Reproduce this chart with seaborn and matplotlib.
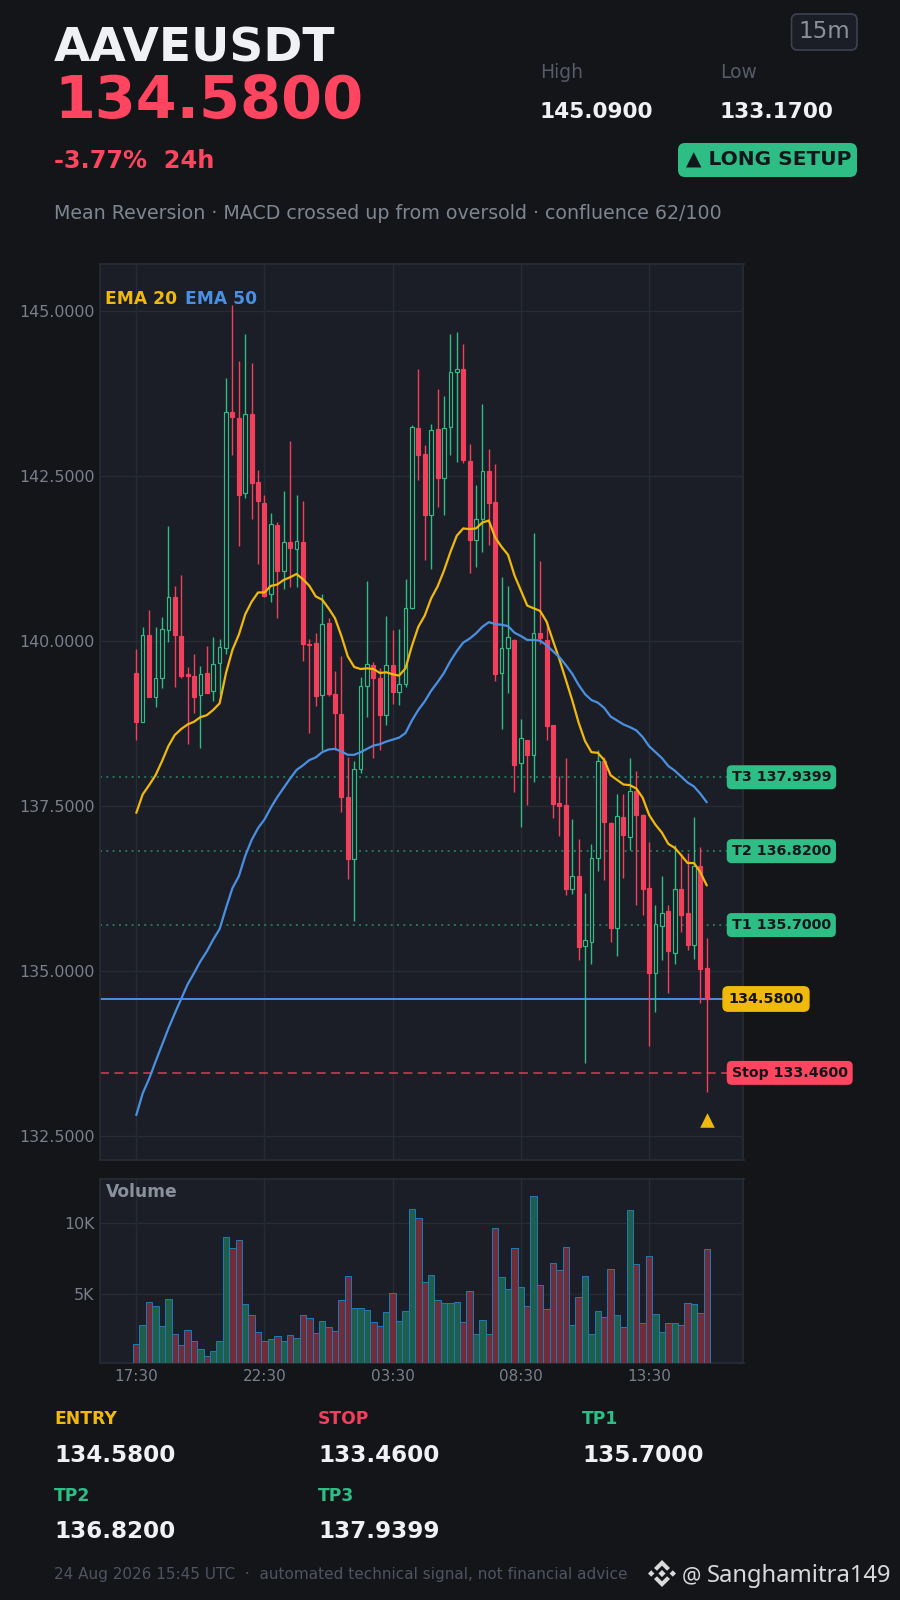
import matplotlib
matplotlib.use("Agg")
import matplotlib.pyplot as plt
from matplotlib.patches import FancyBboxPatch, Polygon
import numpy as np
import seaborn as sns

# candles
opens = [139.52,138.78,140.09,139.16,139.44,140.17,140.67,140.08,139.50,139.47,
         139.18,139.52,139.24,139.67,139.90,143.48,143.39,142.24,143.44,142.41,
         142.09,140.71,141.76,141.06,141.50,141.40,141.50,139.96,139.97,139.19,
         140.28,139.20,138.90,137.64,136.70,138.07,139.32,139.64,139.44,138.88,
         139.64,139.23,139.35,140.50,143.23,142.84,141.91,143.21,142.47,143.24,
         144.08,144.13,142.73,141.53,141.86,142.58,142.11,139.52,139.90,140.02,
         138.15,138.51,138.27,140.12,140.02,138.73,137.55,137.52,136.25,136.45,
         135.38,135.45,136.71,138.18,137.25,135.66,137.33,137.04,137.73,137.37,
         136.26,134.98,135.69,135.91,135.28,136.25,135.88,135.40,136.59,135.05]
highs = [139.89,140.21,140.48,140.22,140.37,141.75,140.84,141.00,139.61,139.81,
         139.63,139.93,140.06,140.03,143.99,145.09,144.25,144.66,144.21,142.59,
         142.22,141.95,141.81,142.28,143.03,142.22,142.12,140.03,140.12,140.71,
         140.35,139.55,139.78,138.24,138.19,139.46,140.91,139.68,139.59,140.39,
         140.17,140.18,140.94,143.27,144.12,142.98,143.29,143.83,143.71,144.65,
         144.68,144.50,142.99,142.37,143.59,142.91,142.69,140.97,140.84,140.03,
         138.82,138.51,141.64,141.22,140.30,138.73,137.96,138.23,137.31,137.01,
         136.19,136.93,138.36,138.24,137.26,137.68,137.69,138.23,138.03,137.38,
         136.96,136.01,136.45,136.01,136.92,136.77,136.79,137.34,136.89,135.51]
lows = [138.51,138.78,139.16,139.00,139.29,139.99,139.31,139.44,138.44,138.92,
        138.39,139.22,139.09,139.18,139.80,142.83,141.44,142.17,141.85,141.17,
        140.67,140.59,140.36,140.79,140.82,140.82,139.70,138.61,139.02,138.35,
        139.17,138.36,137.42,136.40,135.76,138.01,138.86,138.23,138.36,138.73,
        139.05,139.03,139.31,140.49,142.44,141.23,141.09,142.04,141.92,142.82,
        142.72,142.70,141.03,141.13,141.35,141.46,139.40,138.67,139.21,137.71,
        137.19,137.52,137.87,139.96,138.50,137.32,137.05,136.16,136.17,135.17,
        133.61,135.11,136.52,136.39,135.45,135.23,136.41,136.84,136.01,135.85,
        133.87,134.38,135.17,134.67,135.11,135.59,135.32,135.18,134.52,133.17]
closes = [138.77,140.09,139.16,139.44,140.18,140.67,140.09,139.48,139.47,139.16,
          139.50,139.22,139.65,139.91,143.48,143.40,142.22,143.44,142.40,142.12,
          140.69,141.77,141.06,141.50,141.42,141.52,139.96,139.95,139.17,140.26,
          139.20,138.91,137.64,136.70,138.07,139.32,139.66,139.44,138.88,139.64,
          139.23,139.35,140.50,143.24,142.83,141.91,143.20,142.47,143.23,144.08,
          144.12,142.74,141.53,141.86,142.58,142.09,139.50,139.90,140.06,138.13,
          138.53,138.28,140.12,140.05,138.72,137.54,137.50,136.25,136.44,135.37,
          135.47,136.71,138.18,137.26,135.66,137.35,137.06,137.73,137.37,136.25,
          134.98,135.71,135.88,135.30,136.25,135.85,135.40,136.59,135.04,134.58]
ema20 = [137.40,137.68,137.82,137.97,138.18,138.41,138.58,138.67,138.74,138.78,
         138.85,138.88,138.96,139.06,139.52,139.87,140.10,140.41,140.60,140.74,
         140.74,140.84,140.86,140.93,140.97,141.02,140.94,140.84,140.68,140.63,
         140.50,140.35,140.08,139.77,139.61,139.58,139.59,139.58,139.52,139.53,
         139.50,139.48,139.59,139.93,140.22,140.39,140.65,140.83,141.07,141.35,
         141.60,141.71,141.70,141.71,141.80,141.83,141.57,141.43,141.31,141.00,
         140.77,140.54,140.50,140.46,140.30,140.01,139.73,139.42,139.11,138.77,
         138.49,138.32,138.31,138.20,137.97,137.90,137.83,137.82,137.77,137.63,
         137.37,137.22,137.10,136.93,136.87,136.76,136.64,136.64,136.50,136.30]
ema50 = [132.82,133.15,133.37,133.63,133.88,134.13,134.36,134.58,134.80,134.97,
         135.15,135.30,135.48,135.64,135.96,136.26,136.44,136.75,136.99,137.17,
         137.30,137.48,137.64,137.78,137.92,138.05,138.12,138.20,138.24,138.32,
         138.36,138.37,138.33,138.28,138.28,138.32,138.37,138.42,138.44,138.48,
         138.51,138.54,138.61,138.80,138.96,139.09,139.25,139.38,139.52,139.70,
         139.85,139.98,140.04,140.12,140.22,140.29,140.26,140.25,140.23,140.13,
         140.08,140.02,140.02,140.01,139.94,139.85,139.76,139.64,139.51,139.34,
         139.20,139.11,139.07,138.99,138.86,138.80,138.74,138.70,138.65,138.55,
         138.41,138.32,138.23,138.11,138.04,137.95,137.86,137.80,137.69,137.56]
volume = [1.48,2.82,4.44,4.15,2.75,4.65,2.18,1.41,2.46,1.69,
          1.13,0.63,0.99,1.69,9.01,8.24,8.80,4.30,3.52,2.32,
          1.69,1.83,2.04,1.69,2.11,1.90,3.52,3.31,2.25,3.10,
          2.68,2.39,4.58,6.27,4.01,4.01,3.87,3.03,2.75,3.73,
          5.07,3.10,3.80,10.99,10.35,5.85,6.34,4.58,4.37,4.37,
          4.44,3.03,5.21,2.18,3.17,2.18,9.65,6.20,5.35,8.24,
          5.49,4.15,11.90,5.63,3.94,7.18,6.69,8.31,2.82,4.79,
          6.27,2.18,3.80,3.38,6.76,3.52,2.68,10.92,7.11,2.96,
          7.68,3.59,2.32,2.96,2.96,2.82,4.37,4.30,3.66,8.17]

price_ticks = [132.5,135.0,137.5,140.0,142.5,145.0]
vol_ticks = [5,10]
vol_labels = ["5K","10K"]
time_ticks = [0,20,40,60,80]
time_labels = ["17:30","22:30","03:30","08:30","13:30"]
entry = 134.58
stop = 133.46
targets = [135.70,136.82,137.9399]
signal_price = 132.75

BG = "#131519"
PANEL = "#1b1e26"
GRID = "#272b33"
GOLD = "#f0b90b"
BLUE = "#4a90e2"
RED = "#f23f5c"
HOT = "#ff4560"
GREEN = "#2dbd85"
WHITE = "#f0f1f5"
GREY = "#7a7f8a"
INK = "#13161b"

sns.set_theme(style="dark", rc={"figure.facecolor":BG,"axes.facecolor":PANEL,"axes.edgecolor":GRID,
                                "grid.color":GRID,"axes.grid":True,"grid.linewidth":1.0})
plt.rcParams["font.family"] = ["DejaVu Sans"]

W,H = 900,1600
fig = plt.figure(figsize=(9,16),dpi=100)

def panel(left,top,right,bottom):
    return fig.add_axes([left/W,1-bottom/H,(right-left)/W,(bottom-top)/H])

ax = panel(100,264,743.5,1160)
axv = panel(100,1179,743.5,1363)
idx = np.arange(len(closes))
rising = np.array(closes)>=np.array(opens)

# candles
for i in idx:
    c = GREEN if rising[i] else RED
    ax.vlines(i,lows[i],highs[i],color=c,lw=1.0,zorder=2)
    bot = min(opens[i],closes[i])
    hgt = abs(closes[i]-opens[i])
    ax.bar(i,hgt,bottom=bot,width=0.56 if rising[i] else 0.62,color=PANEL if rising[i] else c,edgecolor=c,lw=0.85,zorder=3)

sns.lineplot(x=idx,y=ema20,color=GOLD,lw=1.6,ax=ax,zorder=4)
sns.lineplot(x=idx,y=ema50,color=BLUE,lw=1.6,ax=ax,zorder=4)

for t in targets:
    ax.axhline(t,color=GREEN,alpha=0.55,lw=1.4,ls=(0,(1,2.25)),zorder=1)
ax.axhline(entry,color=BLUE,lw=1.4,zorder=1)
ax.axhline(stop,color=HOT,alpha=0.7,lw=1.3,ls=(0,(5,3)),zorder=1)
sns.scatterplot(x=[idx[-1]],y=[signal_price],marker="^",color=GOLD,s=110,linewidth=0,ax=ax,zorder=5)

ax.set_xlim(-5.66,94.73)
ax.set_ylim(132.14,145.717)
ax.set_yticks(price_ticks)
ax.set_yticklabels(["%.4f" % p for p in price_ticks])
ax.set_xticks(time_ticks)
ax.set_xticklabels([])
ax.tick_params(length=0,labelsize=11.4,labelcolor=GREY,pad=4)
ax.text(0.0085,0.961,"EMA 20",color=GOLD,fontsize=12.3,weight="bold",transform=ax.transAxes,va="center")
ax.text(0.1315,0.961,"EMA 50",color=BLUE,fontsize=12.3,weight="bold",transform=ax.transAxes,va="center")

# level tags
tr = ax.get_yaxis_transform()
for t,name in zip(targets,["T1 135.7000","T2 136.8200","T3 137.9399"]):
    ax.text(0.9817,t,name,color=INK,fontsize=10.3,weight="bold",transform=tr,va="center",clip_on=False,zorder=6,
            bbox=dict(boxstyle="round,pad=0.3",fc=GREEN,ec=GREEN))
ax.text(0.9763,entry,"134.5800",color=INK,fontsize=10.4,weight="bold",transform=tr,va="center",clip_on=False,zorder=6,
        bbox=dict(boxstyle="round,pad=0.36",fc=GOLD,ec=GOLD))
ax.text(0.9817,stop,"Stop 133.4600",color=INK,fontsize=10.2,weight="bold",transform=tr,va="center",clip_on=False,zorder=6,
        bbox=dict(boxstyle="round,pad=0.3",fc=HOT,ec=HOT))

# volume
sns.barplot(x=idx,y=volume,hue=["up" if r else "down" for r in rising],
            palette={"up":"#1e5e4a","down":"#702c38"},dodge=False,native_scale=True,
            width=1.0,saturation=1,edgecolor="#1f77b4",linewidth=0.75,legend=False,ax=axv,zorder=3)
axv.set_xlim(-5.66,94.73)
axv.set_ylim(0.14,13.12)
axv.set_yticks(vol_ticks)
axv.set_yticklabels(vol_labels)
axv.set_xticks(time_ticks)
axv.set_xticklabels(time_labels)
axv.set_ylabel("")
axv.tick_params(axis="y",length=0,labelsize=11.4,labelcolor=GREY,pad=4)
axv.tick_params(axis="x",length=0,labelsize=11,labelcolor=GREY,pad=4.5)
axv.text(0.0085,0.93,"Volume",color="#8a909c",fontsize=12.3,weight="bold",transform=axv.transAxes,va="center")

# header and footer, in pixels
top = fig.add_axes([0,0,1,1],zorder=10)
top.set_xlim(0,W)
top.set_ylim(H,0)
top.axis("off")

def put(x,y,s,size,color,weight="normal",**kw):
    top.text(x,y,s,fontsize=size,color=color,weight=weight,va="baseline",**kw)

put(54,62,"AAVEUSDT",33.8,WHITE,"bold")
put(54,118,"134.5800",42.4,HOT,"bold")
put(54,168,"-3.77%  24h",17.3,HOT,"bold")
put(54,219,"Mean Reversion · MACD crossed up from oversold · confluence 62/100",13.7,"#7f8591")
put(540,78,"High",13.5,"#565b66")
put(720,78,"Low",13.5,"#565b66")
put(540,118,"145.0900",15.6,WHITE,"bold")
put(720,118,"133.1700",15.6,WHITE,"bold")

top.add_patch(FancyBboxPatch((791.5,14),65.5,36,boxstyle="round,pad=0,rounding_size=6",fc=PANEL,ec="#3d424d",lw=1.2))
top.add_patch(FancyBboxPatch((682,147),171,26,boxstyle="round,pad=4,rounding_size=7",fc=GREEN,ec="none"))
put(798,38,"15m",16.5,"#8a909c")
put(686,165,"▲ LONG SETUP",14.5,INK,"bold")

cols = [54,318,582,54,318]
rows = [(1424,1462),(1424,1462),(1424,1462),(1501,1538),(1501,1538)]
names = ["ENTRY","STOP","TP1","TP2","TP3"]
colors = [GOLD,RED,GREEN,GREEN,GREEN]
vals = ["134.5800","133.4600","135.7000","136.8200","137.9399"]
for x,(y1,y2),n,c,v in zip(cols,rows,names,colors,vals):
    put(x,y1,n,12.3,c,"bold")
    put(x,y2,v,16.6,WHITE,"bold")

put(54,1579,"24 Aug 2026 15:45 UTC  ·  automated technical signal, not financial advice",11,"#4f5460")

# watermark
lc = "#d9d9d9"
cx,cy = 662,1573.5
for dx,dy,r in [(0,0,3.6),(-10.8,0,3.2),(10.8,0,3.2)]:
    top.add_patch(Polygon([(cx+dx,cy+dy-r),(cx+dx+r,cy+dy),(cx+dx,cy+dy+r),(cx+dx-r,cy+dy)],fc=lc,ec="none"))
for s in [1,-1]:
    top.add_patch(Polygon([(cx,cy-13.5*s),(cx+8,cy-5.5*s),(cx+5,cy-2.8*s),(cx,cy-7.8*s),(cx-5,cy-2.8*s),(cx-8,cy-5.5*s)],fc=lc,ec="none"))
top.text(682,1582,"@",fontsize=15.5,color=lc,family="Noto Sans",va="baseline")
top.text(707,1582,"Sanghamitra149",fontsize=17.1,color=lc,family="Noto Sans",va="baseline")

fig.savefig("out.png",dpi=100,facecolor=BG)
